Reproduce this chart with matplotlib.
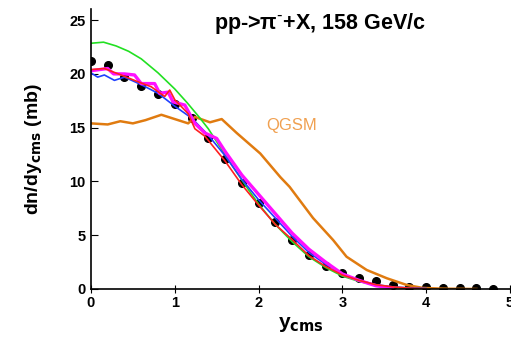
import matplotlib.pyplot as plt
import numpy as np

plt.rcParams['font.family'] = ['Liberation Sans', 'DejaVu Sans']

# data points (black dots)
y_data = [0.0, 0.2, 0.4, 0.6, 0.8, 1.0, 1.2, 1.4, 1.6, 1.8, 2.0, 2.2, 2.4,
          2.6, 2.8, 3.0, 3.2, 3.4, 3.6, 3.8, 4.0, 4.2, 4.4, 4.6, 4.8]
dn_data = [21.2, 20.8, 19.7, 18.9, 18.1, 17.2, 15.9, 14.0, 12.1, 9.9, 8.0,
           6.25, 4.55, 3.15, 2.1, 1.45, 1.0, 0.7, 0.37, 0.2, 0.15, 0.08,
           0.05, 0.05, 0.03]

# model curves
x_green = [0.0, 0.15, 0.3, 0.45, 0.6, 0.8, 1.0, 1.15, 1.3, 1.4, 1.5, 1.7,
           1.9, 2.0, 2.2, 2.4, 2.6, 2.8, 3.0, 3.2, 3.4, 3.6, 3.8, 4.0]
dn_green = [22.85, 22.95, 22.6, 22.1, 21.4, 20.1, 18.6, 17.3, 15.9, 14.9,
            13.7, 11.3, 9.0, 7.9, 6.0, 4.4, 3.0, 2.0, 1.2, 0.7, 0.35, 0.15,
            0.05, 0.02]

x_blue = [0.0, 0.08, 0.16, 0.28, 0.4, 0.6, 0.8, 1.0, 1.2, 1.4, 1.6, 1.8, 2.0,
          2.2, 2.4, 2.6, 2.8, 3.0, 3.2, 3.4, 3.6, 3.8, 4.0]
dn_blue = [20.1, 19.7, 19.9, 19.4, 19.7, 19.0, 18.2, 17.0, 15.9, 14.3, 12.4,
           10.2, 8.3, 6.6, 4.9, 3.4, 2.3, 1.4, 0.8, 0.4, 0.2, 0.1, 0.05]

x_red = [0.0, 0.16, 0.36, 0.55, 0.72, 0.88, 0.94, 1.0, 1.16, 1.24, 1.36, 1.6,
         1.8, 2.0, 2.2, 2.4, 2.6, 2.8, 3.0, 3.2, 3.4, 3.6, 3.8, 4.0]
dn_red = [20.4, 20.5, 19.9, 19.3, 18.8, 17.9, 18.5, 17.6, 16.3, 14.9, 14.2,
          11.9, 9.7, 7.8, 6.0, 4.6, 3.1, 2.1, 1.3, 0.8, 0.4, 0.2, 0.08, 0.03]

x_mag = [0.0, 0.2, 0.27, 0.4, 0.52, 0.6, 0.76, 0.82, 0.92, 0.98, 1.12, 1.24,
         1.36, 1.5, 1.6, 1.8, 2.0, 2.2, 2.4, 2.6, 2.8, 3.0, 3.2, 3.4, 3.6]
dn_mag = [20.3, 20.5, 20.0, 20.0, 19.9, 19.1, 19.1, 18.2, 18.3, 17.4, 17.1,
          15.4, 14.5, 14.0, 12.8, 10.6, 8.8, 7.0, 5.2, 3.7, 2.5, 1.4, 0.8,
          0.3, 0.1]

x_qgsm = [0.0, 0.2, 0.35, 0.5, 0.65, 0.84, 1.0, 1.16, 1.24, 1.42, 1.56, 1.74,
          2.02, 2.26, 2.37, 2.65, 2.89, 3.05, 3.29, 3.53, 3.77, 3.96, 4.2,
          4.6]
dn_qgsm = [15.4, 15.3, 15.6, 15.4, 15.7, 16.2, 15.8, 15.4, 16.0, 15.5, 15.8,
           14.5, 12.6, 10.4, 9.5, 6.6, 4.55, 3.0, 1.77, 1.0, 0.37, 0.1, 0.03,
           0.0]

fig = plt.figure(figsize=(5.11, 3.41), dpi=100)
ax = fig.add_axes([0.178, 0.1525, 0.82, 0.82])

ax.plot(x_qgsm, dn_qgsm, color="#e07b10", lw=1.8)
ax.plot(x_green, dn_green, color="#22e022", lw=1.2)
ax.plot(x_blue, dn_blue, color="#2040ff", lw=1.2)
ax.plot(x_mag, dn_mag, color="#ff10ff", lw=2.4)
ax.plot(x_red, dn_red, color="#ff2020", lw=1.2)
ax.plot(y_data, dn_data, "o", color="black", ms=5.5, zorder=1)

ax.set_xlim(0, 5)
ax.set_ylim(0, 26)
ax.set_xticks([0, 1, 2, 3, 4, 5])
ax.set_yticks([0, 5, 10, 15, 20, 25])
for s in ["top", "right"]:
    ax.spines[s].set_visible(False)
ax.spines["left"].set_linewidth(1.2)
ax.spines["bottom"].set_linewidth(1.2)
ax.tick_params(axis="y", direction="in", length=5, labelsize=10.5, pad=4)
ax.tick_params(axis="x", direction="inout", length=6, labelsize=10.5, pad=2)
for lab in ax.get_xticklabels() + ax.get_yticklabels():
    lab.set_fontweight("bold")

ax.set_ylabel("dn/dy$_{\\mathbf{cms}}$ (mb)", fontsize=14, fontweight="bold",
              labelpad=18)
ax.set_xlabel("y$_{\\mathbf{cms}}$", fontsize=15, fontweight="bold", labelpad=4)

ax.text(2.73, 24.7, "pp->\u03c0$^{\\text{-}}$+X, 158 GeV/c", fontsize=15.5,
        fontweight="bold", ha="center", va="center")
ax.text(2.09, 15.2, "QGSM", fontsize=12, color="#f0a050", ha="left",
        va="center")

fig.savefig("out.png", dpi=100)
